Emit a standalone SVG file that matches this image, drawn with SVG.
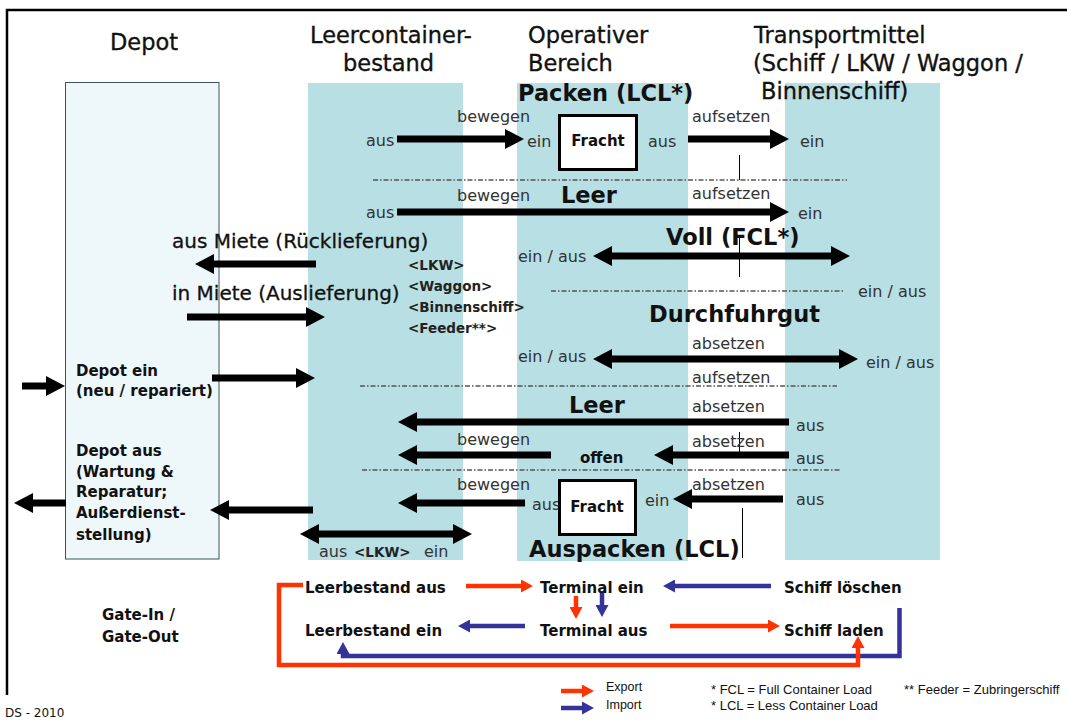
<svg xmlns="http://www.w3.org/2000/svg" width="1067" height="722" viewBox="0 0 1067 722">
<style>
text{font-family:"DejaVu Sans",sans-serif}
.hd{font-size:22.5px;fill:#111;stroke:#111;stroke-width:0.35}
.big{font-size:22.5px;font-weight:bold;fill:#111}
.mid{font-size:20px;fill:#111;stroke:#111;stroke-width:0.3}
.sm{font-size:16px;fill:#333}
.bb{font-size:15px;font-weight:bold;fill:#111}
.tag{font-size:13.5px;font-weight:bold;fill:#222}
.leg{font-family:"Liberation Sans",Arial,sans-serif;font-size:13px;fill:#111}
.col{fill:#b8dfe3}
.box{fill:#fff;stroke:#000;stroke-width:3}
.sep{stroke:#555;stroke-width:1.5;stroke-dasharray:5 2 1.5 2;fill:none}
.arr{stroke:#000;stroke-width:7;fill:none;marker-end:url(#ah)}
.dbl{stroke:#000;stroke-width:7;fill:none;marker-start:url(#ah);marker-end:url(#ah)}
.red{stroke:#ff3300;stroke-width:4.5;fill:none;marker-end:url(#hr)}
.blue{stroke:#333399;stroke-width:4.5;fill:none;marker-end:url(#hb)}
.tick{stroke:#000;stroke-width:1;fill:none}
</style>
<defs>
<marker id="ah" markerUnits="userSpaceOnUse" viewBox="0 0 19 20" markerWidth="19" markerHeight="20" refX="1" refY="10" orient="auto-start-reverse"><path d="M0,0L19,10L0,20z" fill="#000"/></marker>
<marker id="hr" markerUnits="userSpaceOnUse" viewBox="0 0 12 13" markerWidth="12" markerHeight="13" refX="1" refY="6.5" orient="auto"><path d="M0,0L12,6.5L0,13z" fill="#ff3300"/></marker>
<marker id="hb" markerUnits="userSpaceOnUse" viewBox="0 0 12 13" markerWidth="12" markerHeight="13" refX="1" refY="6.5" orient="auto"><path d="M0,0L12,6.5L0,13z" fill="#333399"/></marker>
</defs>

<!-- page frame -->
<path d="M7,695V10H1067" stroke="#000" stroke-width="2.5" fill="none"/>

<!-- column headers -->
<g id="headers">
<text class="hd" x="110" y="50">Depot</text>
<text class="hd" x="310" y="43">Leercontainer-</text>
<text class="hd" x="343" y="71">bestand</text>
<text class="hd" x="528" y="43">Operativer</text>
<text class="hd" x="528" y="71">Bereich</text>
<text class="hd" x="754" y="43">Transportmittel</text>
<text class="hd" x="753" y="71">(Schiff / LKW / Waggon /</text>
</g>

<!-- lanes -->
<g id="depot">
<rect x="65.5" y="82.5" width="153.5" height="476.5" fill="#eef7f9" stroke="#3a5555" stroke-width="1"/>
<text class="bb" x="76" y="376">Depot ein</text>
<text class="bb" x="76" y="396">(neu / repariert)</text>
<text class="bb" x="76" y="456">Depot aus</text>
<text class="bb" x="76" y="477">(Wartung &amp;</text>
<text class="bb" x="76" y="497">Reparatur;</text>
<text class="bb" x="76" y="518">Außerdienst-</text>
<text class="bb" x="76" y="540">stellung)</text>
</g>
<g id="leercontainerbestand">
<rect class="col" x="308" y="83" width="155" height="477"/>
</g>
<g id="operativer-bereich">
<rect class="col" x="517" y="83" width="171" height="478"/>
</g>
<g id="transportmittel">
<rect class="col" x="785" y="83" width="155" height="477"/>
<text class="hd" x="761" y="99">Binnenschiff)</text>
</g>

<!-- section separators -->
<g id="separators">
<line class="sep" x1="373" y1="180" x2="847" y2="180"/>
<line class="sep" x1="551" y1="291" x2="845" y2="291"/>
<line class="sep" x1="360" y1="386" x2="837" y2="386"/>
<line class="sep" x1="362" y1="470" x2="841" y2="470"/>
<line class="tick" x1="739.5" y1="155" x2="739.5" y2="180"/>
<line class="tick" x1="739.5" y1="235" x2="739.5" y2="277"/>
<line class="tick" x1="739.5" y1="432" x2="739.5" y2="452"/>
<line class="tick" x1="742.5" y1="508" x2="742.5" y2="558"/>
</g>

<!-- connectors -->
<g id="connectors">
<path class="arr" d="M397,139H506"/>
<path class="arr" d="M688,139H771"/>
<path class="arr" d="M397,212H771"/>
<path class="arr" d="M316,264H213"/>
<path class="dbl" d="M611,256H832"/>
<path class="arr" d="M187,317H307"/>
<path class="dbl" d="M611,359H840"/>
<path class="arr" d="M22,386H47"/>
<path class="arr" d="M212,378H297"/>
<path class="arr" d="M789,422H416"/>
<path class="arr" d="M551,455H416"/>
<path class="arr" d="M789,455H672"/>
<path class="arr" d="M525,503H416"/>
<path class="arr" d="M783,499H691"/>
<path class="arr" d="M66,503H32"/>
<path class="arr" d="M313,510H228"/>
<path class="dbl" d="M318,534H454"/>

<path class="red" d="M466,586H522"/>
<path class="blue" d="M771,586H674"/>
<path class="red" d="M576,596V608"/>
<path class="blue" d="M602,592V606"/>
<path class="blue" d="M525,626H469"/>
<path class="red" d="M670,626H769"/>
<path class="blue" d="M899.5,608V656H343V653"/>
<path class="red" d="M303,585H279V665H858V647"/>
</g>

<!-- flow labels -->
<g id="packen">
<text class="big" x="518" y="101">Packen (LCL*)</text>
<text class="sm" x="457" y="122">bewegen</text>
<text class="sm" x="366" y="146">aus</text>
<text class="sm" x="527" y="147">ein</text>
<text class="sm" x="648" y="147">aus</text>
<text class="sm" x="692" y="122">aufsetzen</text>
<text class="sm" x="800" y="147">ein</text>
</g>
<g id="fracht-ein">
<rect class="box" x="559.5" y="115.5" width="77" height="54"/>
<text class="bb" x="598" y="146" text-anchor="middle">Fracht</text>
</g>

<g id="leer-export">
<text class="big" x="561" y="203">Leer</text>
<text class="sm" x="457" y="201">bewegen</text>
<text class="sm" x="366" y="218">aus</text>
<text class="sm" x="692" y="199">aufsetzen</text>
<text class="sm" x="798" y="219">ein</text>
</g>

<g id="miete">
<text class="mid" x="172" y="248">aus Miete (Rücklieferung)</text>
<text class="mid" x="172" y="300">in Miete (Auslieferung)</text>
<text class="tag" x="408" y="270">&lt;LKW&gt;</text>
<text class="tag" x="408" y="291">&lt;Waggon&gt;</text>
<text class="tag" x="408" y="312">&lt;Binnenschiff&gt;</text>
<text class="tag" x="408" y="333">&lt;Feeder**&gt;</text>
</g>

<g id="voll">
<text class="big" x="666" y="245">Voll (FCL*)</text>
<text class="sm" x="518" y="262">ein / aus</text>
<text class="sm" x="858" y="297">ein / aus</text>
</g>

<g id="durchfuhrgut">
<text class="big" x="649" y="322">Durchfuhrgut</text>
<text class="sm" x="692" y="349">absetzen</text>
<text class="sm" x="518" y="362">ein / aus</text>
<text class="sm" x="866" y="368">ein / aus</text>
<text class="sm" x="692" y="383">aufsetzen</text>
</g>

<g id="leer-import">
<text class="big" x="569" y="413">Leer</text>
<text class="sm" x="692" y="412">absetzen</text>
<text class="sm" x="796" y="431">aus</text>
</g>

<g id="offen">
<text class="sm" x="457" y="445">bewegen</text>
<text class="bb" x="580" y="463">offen</text>
<text class="sm" x="692" y="447">absetzen</text>
<text class="sm" x="796" y="464">aus</text>
</g>

<g id="auspacken">
<text class="sm" x="457" y="490">bewegen</text>
<text class="sm" x="532" y="510">aus</text>
<text class="sm" x="645" y="506">ein</text>
<text class="sm" x="692" y="490">absetzen</text>
<text class="sm" x="796" y="505">aus</text>
<text class="big" x="529" y="557">Auspacken (LCL)</text>
</g>
<g id="fracht-aus">
<rect class="box" x="559.5" y="480.5" width="76" height="54"/>
<text class="bb" x="597" y="512" text-anchor="middle">Fracht</text>
</g>

<g id="lkw">
<text class="sm" x="319" y="557">aus</text>
<text class="tag" x="354" y="557">&lt;LKW&gt;</text>
<text class="sm" x="424" y="557">ein</text>
</g>

<!-- gate-in / gate-out cycle -->
<g id="gate">
<text class="bb" x="102" y="620">Gate-In /</text>
<text class="bb" x="102" y="642">Gate-Out</text>
</g>
<g id="leerbestand-aus"><text class="bb" x="305" y="593">Leerbestand aus</text></g>
<g id="leerbestand-ein"><text class="bb" x="305" y="636">Leerbestand ein</text></g>
<g id="terminal-ein"><text class="bb" x="540" y="593">Terminal ein</text></g>
<g id="terminal-aus"><text class="bb" x="540" y="636">Terminal aus</text></g>
<g id="schiff-loeschen"><text class="bb" x="784" y="593">Schiff löschen</text></g>
<g id="schiff-laden"><text class="bb" x="784" y="636">Schiff laden</text></g>

<!-- legend -->
<g id="legend">
<path class="red" d="M561,691H583"/>
<path class="blue" d="M561,708H583"/>
<text class="leg" x="606" y="691" style="font-size:12.5px">Export</text>
<text class="leg" x="606" y="709" style="font-size:12.5px">Import</text>
<text class="leg" x="711" y="694">* FCL = Full Container Load</text>
<text class="leg" x="711" y="710">* LCL = Less Container Load</text>
<text class="leg" x="904" y="694">** Feeder = Zubringerschiff</text>
<text x="5" y="717" style="font-size:12px;fill:#111">DS - 2010</text>
</g>
</svg>
